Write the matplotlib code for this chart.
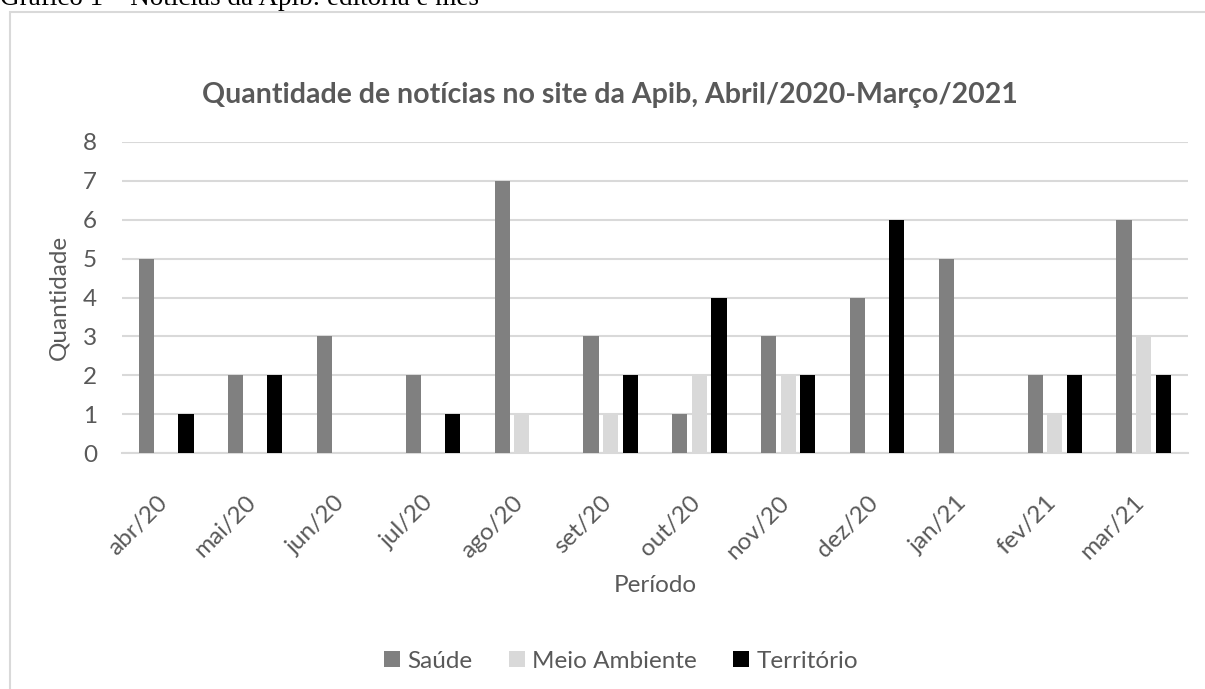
import matplotlib.pyplot as plt
import matplotlib.transforms as mtransforms
import numpy as np
from matplotlib.patches import Rectangle

meses = ['abr/20', 'mai/20', 'jun/20', 'jul/20', 'ago/20', 'set/20',
         'out/20', 'nov/20', 'dez/20', 'jan/21', 'fev/21', 'mar/21']
saude = [5, 2, 3, 2, 7, 3, 1, 3, 4, 5, 2, 6]
meio_ambiente = [0, 0, 0, 0, 1, 1, 2, 2, 0, 0, 1, 3]
territorio = [1, 2, 0, 1, 0, 2, 4, 2, 6, 0, 2, 2]

W, H = 1205, 689
TXT = '#595959'
GRID = '#d9d9d9'
FS = 17.5

plt.rcParams['font.family'] = ['Lato', 'DejaVu Sans']

fig = plt.figure(figsize=(W / 100, H / 100), dpi=100)

# moldura do gráfico (cortada à direita e embaixo)
fig.patches.append(Rectangle((10 / W, -0.05), 1.2, 1 - 12 / H + 0.05,
                             transform=fig.transFigure, fill=False,
                             edgecolor=GRID, linewidth=1.5))

fig.text(0, 1 - 5 / H, 'Gráfico 1 – Notícias da Apib: editoria e mês',
         family='Liberation Serif', fontsize=19.5, va='baseline', ha='left')

ax = fig.add_axes([122 / W, (H - 453) / H, (1188 - 122) / W, (453 - 142) / H])

x = np.arange(len(meses))
w = 0.17
ax.bar(x - 0.22, saude, w, color='#808080', label='Saúde', zorder=3)
ax.bar(x, meio_ambiente, w, color='#d9d9d9', label='Meio Ambiente', zorder=3)
ax.bar(x + 0.22, territorio, w, color='#000000', label='Território', zorder=3)

ax.set_xlim(-0.5, len(meses) - 0.5)
ax.set_ylim(0, 8)
ax.set_yticks(range(0, 9))
ax.yaxis.grid(True, color=GRID, linewidth=1.5, zorder=0)
ax.set_axisbelow(True)
for s in ['top', 'right', 'left']:
    ax.spines[s].set_visible(False)
ax.spines['bottom'].set_color(GRID)
ax.spines['bottom'].set_linewidth(1.5)

ax.set_xticks(x)
ax.set_xticklabels(meses, rotation=45, ha='right', va='top')
ax.tick_params(axis='x', length=0, pad=28, labelsize=FS, labelcolor=TXT)
ax.tick_params(axis='y', length=0, pad=18, labelsize=FS, labelcolor=TXT)
shift = mtransforms.ScaledTranslation(5 / 100, 0, fig.dpi_scale_trans)
for lbl in ax.get_xticklabels():
    lbl.set_transform(lbl.get_transform() + shift)

ax.set_ylabel('Quantidade', fontsize=FS, color=TXT, labelpad=10)
ax.set_xlabel('Período', fontsize=FS, color=TXT)
ax.xaxis.set_label_coords(0.5, -(586 - 453) / (453 - 142))
ax.xaxis.label.set_va('center')

fig.text(610 / W, 1 - 95 / H,
         'Quantidade de notícias no site da Apib, Abril/2020-Março/2021',
         fontsize=20.5, fontweight='bold', color=TXT, ha='center', va='center')

leg = fig.legend(loc='center', bbox_to_anchor=(621 / W, 1 - 661 / H),
                 ncol=3, frameon=False, fontsize=FS, handlelength=0.65,
                 handleheight=0.65, handletextpad=0.3, columnspacing=1.5)
for t in leg.get_texts():
    t.set_color(TXT)

fig.savefig('out.png', dpi=100)
